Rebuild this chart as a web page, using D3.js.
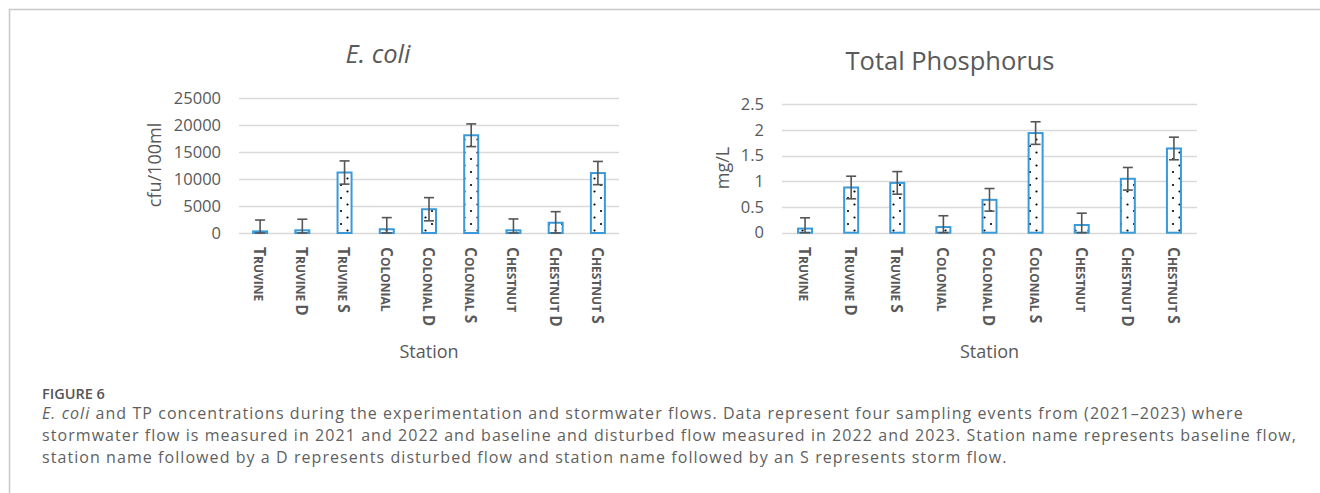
<!DOCTYPE html>
<html>
<head>
<meta charset="utf-8">
<script src="https://cdn.jsdelivr.net/npm/d3@7"></script>
<style>
  html, body { margin: 0; padding: 0; background: #fff; }
  svg { display: block; font-family: "Open Sans", sans-serif; }
</style>
</head>
<body>
<svg id="fig" width="1320" height="493"></svg>
<script>
// station names
var stations = ["Truvine", "Truvine D", "Truvine S", "Colonial", "Colonial D", "Colonial S", "Chestnut", "Chestnut D", "Chestnut S"];

// E. coli, cfu/100ml
var ecoliMean = [300, 500, 11200, 700, 4400, 18100, 500, 1900, 11100];
var ecoliErr  = [2100, 2050, 2150, 2150, 2150, 2100, 2100, 2050, 2150];
var ecoliTicks = [0, 5000, 10000, 15000, 20000, 25000];

// Total phosphorus, mg/L
var tpMean = [0.08, 0.88, 0.97, 0.11, 0.64, 1.94, 0.15, 1.05, 1.64];
var tpErr  = [0.21, 0.22, 0.22, 0.22, 0.22, 0.22, 0.23, 0.22, 0.22];
var tpTicks = [0, 0.5, 1, 1.5, 2, 2.5];

var captionHead = "FIGURE 6";
var captionLines = [
  [["E. coli", true], [" and TP concentrations during the experimentation and stormwater flows. Data represent four sampling events from (2021\u20132023) where", false]],
  [["stormwater flow is measured in 2021 and 2022 and baseline and disturbed flow measured in 2022 and 2023. Station name represents baseline flow,", false]],
  [["station name followed by a D represents disturbed flow and station name followed by an S represents storm flow.", false]]
];

var svg = d3.select("#fig");
var grey = "#595959";
var blue = "#3a9ad9";

// dotted fill, like Excel's "5%" pattern
var defs = svg.append("defs");
var pat = defs.append("pattern")
  .attr("id", "dots")
  .attr("patternUnits", "userSpaceOnUse")
  .attr("width", 13).attr("height", 13);
pat.append("rect").attr("width", 13).attr("height", 13).attr("fill", "#fff");
pat.append("circle").attr("cx", 3).attr("cy", 3).attr("r", 1.1).attr("fill", "#000");
pat.append("circle").attr("cx", 9.5).attr("cy", 9.5).attr("r", 1.1).attr("fill", "#000");

// panel frame
svg.append("line").attr("x1", 9).attr("x2", 1320).attr("y1", 9.5).attr("y2", 9.5)
  .attr("stroke", "#c8c8c8").attr("stroke-width", 1.5);
svg.append("line").attr("x1", 9.5).attr("x2", 9.5).attr("y1", 9).attr("y2", 493)
  .attr("stroke", "#c8c8c8").attr("stroke-width", 1.5);

// small caps by hand: first letter of each word large, the rest smaller
var smallCaps = function(sel, name){
  name.split(" ").forEach(function(w, k){
    if(k > 0) sel.append("tspan").style("font-size", "12px").text(" ");
    sel.append("tspan").style("font-size", "15.5px").text(w.charAt(0).toUpperCase());
    if(w.length > 1) sel.append("tspan").style("font-size", "12px").text(w.slice(1).toUpperCase());
  });
};

var drawChart = function(opt){
  var g = svg.append("g");

  var x = d3.scaleBand().domain(stations).range([opt.left, opt.right]);
  var y = d3.scaleLinear().domain([0, opt.max]).range([opt.bottom, opt.top]);
  var bw = 14;

  // gridlines
  g.append("g").selectAll("line").data(opt.ticks).join("line")
    .attr("x1", opt.left).attr("x2", opt.right)
    .attr("y1", function(d){ return Math.round(y(d)) + 0.5; })
    .attr("y2", function(d){ return Math.round(y(d)) + 0.5; })
    .attr("stroke", "#d9d9d9").attr("stroke-width", 1.3);

  // y tick labels
  var yAxis = d3.axisLeft(y).tickValues(opt.ticks).tickSize(0).tickPadding(0)
    .tickFormat(function(d){ return String(d); });
  var ga = g.append("g").attr("transform", "translate(" + opt.tickRight + ",0)").call(yAxis);
  ga.select(".domain").remove();
  ga.selectAll("text")
    .attr("fill", grey).style("font-size", "16.5px")
    .style("font-family", "'Open Sans', sans-serif");

  // bars
  g.append("g").selectAll("rect").data(opt.mean).join("rect")
    .attr("x", function(d, i){ return x(stations[i]) + x.bandwidth() / 2 - bw / 2; })
    .attr("y", function(d){ return y(d); })
    .attr("width", bw)
    .attr("height", function(d){ return y(0) - y(d); })
    .attr("fill", "url(#dots)")
    .attr("stroke", blue).attr("stroke-width", 2);

  // error bars
  var eg = g.append("g").attr("stroke", "#555").attr("stroke-width", 1.6);
  opt.mean.forEach(function(m, i){
    var cx = x(stations[i]) + x.bandwidth() / 2;
    var hi = y(m + opt.err[i]);
    var lo = y(Math.max(0, m - opt.err[i]));
    eg.append("line").attr("x1", cx).attr("x2", cx).attr("y1", hi).attr("y2", lo);
    eg.append("line").attr("x1", cx - 5).attr("x2", cx + 5).attr("y1", hi).attr("y2", hi);
    eg.append("line").attr("x1", cx - 5).attr("x2", cx + 5).attr("y1", lo).attr("y2", lo);
  });

  // category labels, rotated
  g.append("g").selectAll("text").data(stations).join("text")
    .attr("transform", function(d){ return "translate(" + (x(d) + x.bandwidth() / 2) + "," + 247 + ") rotate(90)"; })
    .attr("dy", "0.38em")
    .attr("fill", grey)
    .style("font-weight", "bold")
    .each(function(d){ smallCaps(d3.select(this), d); });

  // axis titles
  g.append("text")
    .attr("transform", "translate(" + opt.yTitleX + "," + opt.yTitleY + ") rotate(-90)")
    .attr("text-anchor", "middle").attr("fill", grey)
    .style("font-size", "18px")
    .text(opt.yTitle);
  g.append("text")
    .attr("x", (opt.left + opt.right) / 2).attr("y", 358)
    .attr("text-anchor", "middle").attr("fill", grey)
    .style("font-size", "18px")
    .text("Station");

  // chart title
  g.append("text")
    .attr("x", opt.titleX).attr("y", opt.titleY)
    .attr("text-anchor", "middle").attr("fill", grey)
    .style("font-size", "25.5px")
    .style("font-style", opt.italic ? "italic" : "normal")
    .text(opt.title);
};

drawChart({
  mean: ecoliMean, err: ecoliErr, ticks: ecoliTicks, max: 25000,
  left: 239, right: 619, top: 98, bottom: 233, tickRight: 221,
  yTitle: "cfu/100ml", yTitleX: 161, yTitleY: 165,
  title: "E. coli", italic: true, titleX: 378, titleY: 63
});

drawChart({
  mean: tpMean, err: tpErr, ticks: tpTicks, max: 2.5,
  left: 782, right: 1197, top: 104.3, bottom: 232.7, tickRight: 764,
  yTitle: "mg/L", yTitleX: 729, yTitleY: 168,
  title: "Total Phosphorus", italic: false, titleX: 950, titleY: 70
});

// caption
svg.append("text")
  .attr("x", 42).attr("y", 399)
  .attr("fill", "#555").style("font-size", "14.5px").style("font-weight", "600")
  .text(captionHead);

var cap = svg.append("g").attr("fill", "#5f5f5f").style("font-size", "16px");
var capTexts = captionLines.map(function(parts, i){
  var t = cap.append("text").attr("x", 42).attr("y", 419 + i * 22);
  parts.forEach(function(p){
    t.append("tspan").style("font-style", p[1] ? "italic" : "normal").text(p[0]);
  });
  return t;
});
// the caption face is wider than Open Sans; spread letters so the second line ends near x=1297
var line2 = capTexts[1];
var n = captionLines[1][0][0].length;
var extra = (1255 - line2.node().getComputedTextLength()) / n;
cap.style("letter-spacing", Math.max(0, extra) + "px");
</script>
</body>
</html>
